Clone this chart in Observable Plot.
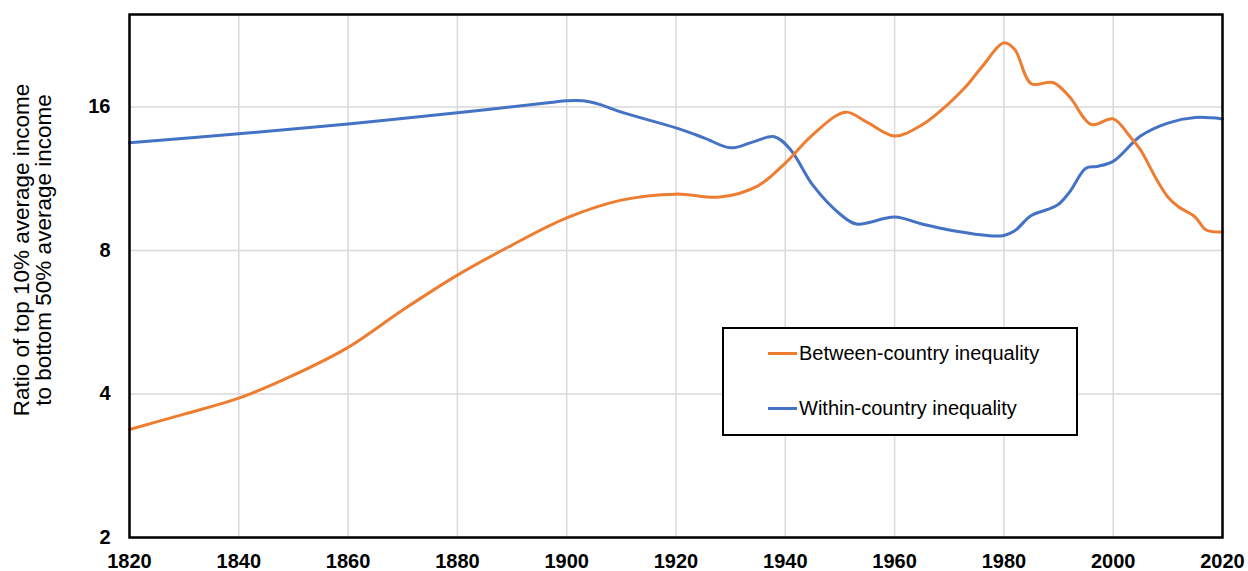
<!DOCTYPE html>
<html>
<head>
<meta charset="utf-8">
<script src="https://cdn.jsdelivr.net/npm/d3@7"></script>
<script src="https://cdn.jsdelivr.net/npm/@observablehq/plot@0.6"></script>
<style>
  html, body { margin: 0; padding: 0; background: #fff; }
  #wrap { position: relative; width: 1248px; height: 571px; font-family: Arial, "Liberation Sans", sans-serif; }
  #legend { position: absolute; left: 722px; top: 327px; width: 352px; height: 105px; border: 2.5px solid #000; background: #fff; }
  .item { position: absolute; left: 44px; font-size: 20px; color: #000; display: flex; align-items: center; }
  .swatch { display: inline-block; width: 29px; height: 3px; margin-right: 2px; }
</style>
</head>
<body>
<div id="wrap"></div>
<script>
const betweenYears = [1820,1830,1840,1850,1860,1870,1880,1890,1900,1910,1920,1928,1935,1940,1945,1951,1955,1960,1965,1970,1973,1976,1980,1982,1985,1989,1992,1996,2000,2003,2005,2008,2010,2012,2015,2017,2020];
const betweenValues = [3.37,3.63,3.92,4.38,5.01,6.0,7.1,8.21,9.36,10.2,10.5,10.35,10.93,12.2,13.98,15.6,14.85,13.9,14.67,16.3,17.63,19.42,21.8,21.1,17.9,18.0,16.8,14.7,15.1,13.9,13.0,11.24,10.36,9.87,9.4,8.83,8.75];
const withinYears = [1820,1840,1860,1880,1897,1900,1903,1906,1910,1920,1925,1930,1934,1938,1941,1945,1950,1953,1960,1965,1970,1978,1980,1982,1985,1988,1990,1992,1995,1997,2000,2005,2010,2015,2020];
const withinValues = [13.45,14.05,14.74,15.55,16.35,16.48,16.48,16.2,15.6,14.46,13.8,13.13,13.5,13.85,13.0,10.98,9.54,9.09,9.4,9.09,8.83,8.58,8.6,8.8,9.47,9.75,10.0,10.6,11.9,12.0,12.3,13.9,14.8,15.2,15.1];
const seriesNames = ["Between-country inequality", "Within-country inequality"];
const seriesColors = ["#ED7D31", "#4472C4"];
const yTicks = [2, 4, 8, 16];
const xTicks = [1820,1840,1860,1880,1900,1920,1940,1960,1980,2000,2020];
const yLabel = "Ratio of top 10% average income\nto bottom 50% average income";

const between = betweenYears.map((y, i) => ({year: y, value: betweenValues[i]}));
const within = withinYears.map((y, i) => ({year: y, value: withinValues[i]}));

const chart = Plot.plot({
  width: 1248,
  height: 571,
  marginLeft: 129,
  marginRight: 26,
  marginTop: 14,
  marginBottom: 34,
  style: {fontFamily: "Arial, 'Liberation Sans', sans-serif", fontSize: "20px", background: "#fff"},
  x: {domain: [1820, 2020], ticks: xTicks, tickFormat: d => String(d), label: null},
  y: {type: "log", base: 2, domain: [2, 25], ticks: yTicks, tickFormat: d => String(d), label: null},
  marks: [
    Plot.gridX(xTicks, {stroke: "#d9d9d9", strokeOpacity: 1, strokeWidth: 1.5}),
    Plot.gridY(yTicks, {stroke: "#d9d9d9", strokeOpacity: 1, strokeWidth: 1.5}),
    Plot.line(within, {x: "year", y: "value", stroke: seriesColors[1], strokeWidth: 3, curve: "catmull-rom"}),
    Plot.line(between, {x: "year", y: "value", stroke: seriesColors[0], strokeWidth: 3, curve: "catmull-rom"}),
    Plot.frame({stroke: "#000", strokeWidth: 2.5}),
    Plot.axisX({ticks: xTicks, tickSize: 0, tickPadding: 16, fontSize: 20, fontWeight: "bold", tickFormat: d => String(d), label: null}),
    Plot.axisY({ticks: yTicks, tickSize: 0, tickPadding: 19, fontSize: 20, fontWeight: "bold", tickFormat: d => String(d), label: null}),
    Plot.text([yLabel], {frameAnchor: "left", rotate: -90, dx: -97, dy: -26, fontSize: 22.5, lineHeight: 0.98, textAnchor: "middle", fill: "#000"})
  ]
});

const wrap = document.getElementById("wrap");
wrap.appendChild(chart);

const legend = document.createElement("div");
legend.id = "legend";
seriesNames.forEach((name, i) => {
  const item = document.createElement("div");
  item.className = "item";
  item.style.top = (i === 0 ? 13 : 68) + "px";
  const sw = document.createElement("span");
  sw.className = "swatch";
  sw.style.background = seriesColors[i];
  const tx = document.createElement("span");
  tx.textContent = name;
  item.appendChild(sw);
  item.appendChild(tx);
  legend.appendChild(item);
});
wrap.appendChild(legend);
</script>
</body>
</html>
